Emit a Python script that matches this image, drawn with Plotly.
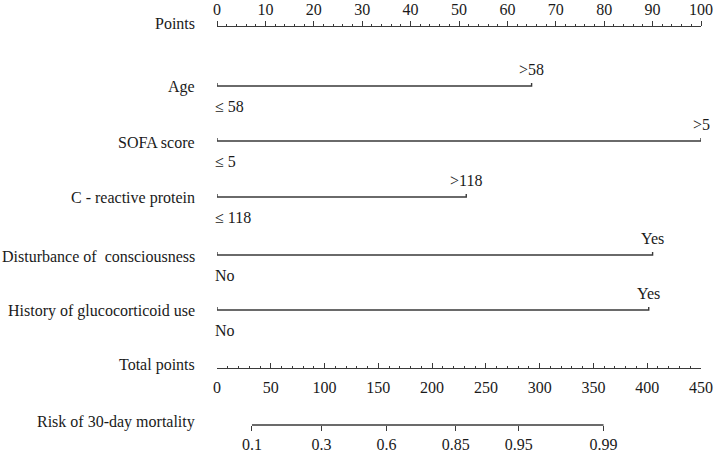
import plotly.graph_objects as go

# ---- data ----
row_labels = ["Age", "SOFA score", "C - reactive protein",
              "Disturbance of\u00a0 consciousness", "History of glucocorticoid use"]
low_levels = ["\u2264 58", "\u2264 5", "\u2264 118", "No", "No"]
high_levels = [">58", ">5", ">118", "Yes", "Yes"]
high_points = [65, 100, 51.5, 90, 89.2]          # points for the upper level
risk_labels = ["0.1", "0.3", "0.6", "0.85", "0.95", "0.99"]
risk_total_points = [32.5, 97.2, 157.6, 222, 280.5, 359.4]  # position on total-points scale

# ---- layout constants (pixels) ----
W, H = 720, 453
X0, X1 = 217, 701
points_y = 26
row_y = [86, 141, 197, 255, 310]
total_y = 368
risk_y = 425
LBL_X = 197
FONT = "Liberation Serif"
FS = 16
LINE = "#3a3a3a"
TXT = "#1a1a1a"

fig = go.Figure()

for lab, lo, hi, p, y in zip(row_labels, low_levels, high_levels, high_points, row_y):
    fig.add_trace(go.Scatter(x=[0, 0, p, p], y=[y - 3, y, y, y - 3], mode="lines",
                             line=dict(color=LINE, width=1.4), xaxis="x", yaxis="y",
                             hoverinfo="skip", showlegend=False))
    fig.add_annotation(x=p, y=y - 17, xref="x", yref="y", text=hi, showarrow=False,
                       xanchor="center", yanchor="middle", font=dict(family=FONT, size=FS, color=TXT))
    fig.add_annotation(x=0, y=y + 20, xref="x", yref="y", text=lo, showarrow=False,
                       xanchor="left", xshift=-4, yanchor="middle", font=dict(family=FONT, size=FS, color=TXT))
    fig.add_annotation(x=LBL_X / W, y=y + 1, xref="paper", yref="y", text=lab, showarrow=False,
                       xanchor="right", yanchor="middle", font=dict(family=FONT, size=FS, color=TXT))

# dummy trace so total points axis renders
fig.add_trace(go.Scatter(x=[0, 450], y=[total_y, total_y], mode="lines", line=dict(width=0),
                         xaxis="x2", yaxis="y", hoverinfo="skip", showlegend=False))
# risk axis line
fig.add_trace(go.Scatter(x=[risk_total_points[0], risk_total_points[-1]], y=[risk_y, risk_y],
                         mode="lines", line=dict(color=LINE, width=1.4), xaxis="x3", yaxis="y",
                         hoverinfo="skip", showlegend=False))

for lab, y in [("Points", points_y), ("Total points", total_y), ("Risk of 30-day mortality", risk_y)]:
    fig.add_annotation(x=LBL_X / W, y=y - 3, xref="paper", yref="y", text=lab, showarrow=False,
                       xanchor="right", yanchor="middle", font=dict(family=FONT, size=FS, color=TXT))

dom = [X0 / W, X1 / W]
tf = dict(family=FONT, size=FS, color=TXT)
fig.update_layout(
    width=W, height=H, margin=dict(l=0, r=0, t=0, b=0, autoexpand=False),
    paper_bgcolor="white", plot_bgcolor="white", showlegend=False,
    xaxis=dict(domain=dom, range=[0, 100], side="top", anchor="free", position=1 - points_y / H,
               automargin=False,
               showline=True, linecolor=LINE, linewidth=1.2, ticks="outside", ticklen=5,
               tickcolor=LINE, tickwidth=1.2, tick0=0, dtick=10,
               minor=dict(dtick=2, ticks="outside", ticklen=2, tickcolor=LINE, tickwidth=1),
               showgrid=False, zeroline=False, tickfont=tf, ticklabelstandoff=0),
    xaxis2=dict(domain=dom, range=[0, 450], overlaying="x", side="bottom", anchor="free",
                automargin=False,
                position=1 - total_y / H, showline=True, linecolor=LINE, linewidth=1.2,
                ticks="inside", ticklen=5, tickcolor=LINE, tickwidth=1.2, tick0=0, dtick=50,
                minor=dict(dtick=10, ticks="inside", ticklen=2, tickcolor=LINE, tickwidth=1),
                showgrid=False, zeroline=False, tickfont=tf, ticklabelstandoff=5),
    xaxis3=dict(domain=dom, range=[0, 450], overlaying="x", side="bottom", anchor="free",
                automargin=False,
                position=1 - risk_y / H, showline=False, ticks="outside", ticklen=5,
                tickcolor=LINE, tickwidth=1.2, tickvals=risk_total_points, ticktext=risk_labels,
                showgrid=False, zeroline=False, tickfont=tf, ticklabelstandoff=0),
    yaxis=dict(domain=[0, 1], range=[H, 0], visible=False, showgrid=False, zeroline=False,
               automargin=False),
)

fig.write_html("out.html")
